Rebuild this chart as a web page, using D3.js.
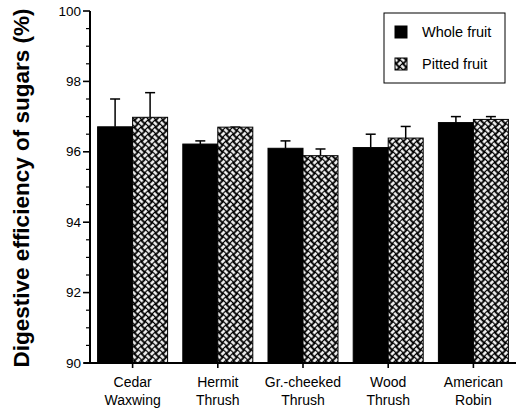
<!DOCTYPE html>
<html>
<head>
<meta charset="utf-8">
<script src="https://cdn.jsdelivr.net/npm/d3@7"></script>
<style>
  body { margin: 0; background: #fff; }
  text { font-family: "Liberation Sans", Arial, sans-serif; fill: #000; }
</style>
</head>
<body>
<div id="chart"></div>
<script>
// species along the x axis, two text lines each
let species = ['Cedar|Waxwing', 'Hermit|Thrush', 'Gr.-cheeked|Thrush', 'Wood|Thrush', 'American|Robin']
let seriesNames = ['Whole fruit', 'Pitted fruit']

// mean digestive efficiency (%) and upper error bar end
let wholeMean = [96.71, 96.22, 96.10, 96.12, 96.83]
let wholeErr = [97.50, 96.31, 96.31, 96.50, 97.00]
let pittedMean = [96.98, 96.70, 95.89, 96.39, 96.92]
let pittedErr = [97.68, 96.70, 96.08, 96.72, 97.00]

let yTicks = [90, 92, 94, 96, 98, 100]

let w = 520, h = 409
let mLeft = 90, mRight = 516, mTop = 11, mBottom = 363

let svg = d3.select('#chart').append('svg')
    .attr('width', w)
    .attr('height', h)

// basket weave fill for the pitted fruit bars (woven tile turned 45 deg)
let defs = svg.append('defs')
let weave = defs.append('pattern')
    .attr('id', 'weave')
    .attr('patternUnits', 'userSpaceOnUse')
    .attr('patternTransform', 'rotate(45)')
    .attr('width', 10)
    .attr('height', 10)
weave.append('rect').attr('width', 10).attr('height', 10).attr('fill', '#000')
weave.append('path')
    .attr('d', 'M0,2.5 H4.3 M7.5,0 V4.3 M2.5,5 V9.3 M5,7.5 H9.3')
    .attr('stroke', '#fff')
    .attr('stroke-width', 2.6)
    .attr('fill', 'none')

let x = d3.scaleBand()
    .domain(d3.range(species.length))
    .range([mLeft, mRight])

let barW = 35

let y = d3.scaleLinear()
    .domain([90, 100])
    .range([mBottom, mTop])

let groups = svg.append('g')
    .selectAll('g')
    .data(species)
    .enter()
    .append('g')

let series = [
    {mean: wholeMean, err: wholeErr, fill: '#000', off: -barW},
    {mean: pittedMean, err: pittedErr, fill: 'url(#weave)', off: 0}
]

series.forEach(s =>
{
    // error bars first, bars drawn over them
    groups.append('line')
        .attr('x1', (d, i) => x(i) + x.bandwidth() / 2 + s.off + barW / 2)
        .attr('x2', (d, i) => x(i) + x.bandwidth() / 2 + s.off + barW / 2)
        .attr('y1', (d, i) => y(s.mean[i]))
        .attr('y2', (d, i) => y(s.err[i]))
        .attr('stroke', '#000')
        .attr('stroke-width', 1.5)
    groups.append('line')
        .attr('x1', (d, i) => x(i) + x.bandwidth() / 2 + s.off + barW / 2 - 5)
        .attr('x2', (d, i) => x(i) + x.bandwidth() / 2 + s.off + barW / 2 + 5)
        .attr('y1', (d, i) => y(s.err[i]))
        .attr('y2', (d, i) => y(s.err[i]))
        .attr('stroke', '#000')
        .attr('stroke-width', 1.5)
})

series.forEach(s =>
{
    groups.append('rect')
        .attr('x', (d, i) => x(i) + x.bandwidth() / 2 + s.off)
        .attr('y', (d, i) => y(s.mean[i]))
        .attr('width', barW)
        .attr('height', (d, i) => y(90) - y(s.mean[i]))
        .attr('fill', s.fill)
        .attr('stroke', '#000')
        .attr('stroke-width', 1)
})

// y axis with minor ticks every 0.5
let yAxis = svg.append('g').attr('transform', 'translate(' + mLeft + ',0)')
yAxis.append('line')
    .attr('y1', y(100)).attr('y2', y(90))
    .attr('stroke', '#000').attr('stroke-width', 2)
yAxis.selectAll('.minor')
    .data(d3.range(90, 100.01, 0.5).filter(v => !yTicks.includes(v)))
    .enter()
    .append('line')
    .attr('x1', -4).attr('x2', 0)
    .attr('y1', d => y(d)).attr('y2', d => y(d))
    .attr('stroke', '#000').attr('stroke-width', 1.2)
yAxis.selectAll('.major')
    .data(yTicks)
    .enter()
    .append('line')
    .attr('x1', -7).attr('x2', 0)
    .attr('y1', d => y(d)).attr('y2', d => y(d))
    .attr('stroke', '#000').attr('stroke-width', 1.6)
yAxis.selectAll('.lab')
    .data(yTicks)
    .enter()
    .append('text')
    .attr('x', -9)
    .attr('y', d => y(d) + 4.5)
    .attr('text-anchor', 'end')
    .style('font-size', '13.5px')
    .text(d => d)

// x axis
let xAxis = svg.append('g')
xAxis.append('line')
    .attr('x1', mLeft - 6).attr('x2', mRight)
    .attr('y1', mBottom).attr('y2', mBottom)
    .attr('stroke', '#000').attr('stroke-width', 2)
xAxis.selectAll('.tick')
    .data(species)
    .enter()
    .append('line')
    .attr('x1', (d, i) => x(i) + x.bandwidth() / 2)
    .attr('x2', (d, i) => x(i) + x.bandwidth() / 2)
    .attr('y1', mBottom).attr('y2', mBottom + 5)
    .attr('stroke', '#000').attr('stroke-width', 1.6)
let xl = xAxis.selectAll('.lab')
    .data(species)
    .enter()
    .append('text')
    .attr('text-anchor', 'middle')
    .style('font-size', '14px')
xl.append('tspan')
    .attr('x', (d, i) => x(i) + x.bandwidth() / 2)
    .attr('y', 387)
    .text(d => d.split('|')[0])
xl.append('tspan')
    .attr('x', (d, i) => x(i) + x.bandwidth() / 2)
    .attr('y', 405)
    .text(d => d.split('|')[1])

// y axis title
svg.append('text')
    .attr('transform', 'translate(29,188) rotate(-90)')
    .attr('text-anchor', 'middle')
    .style('font-size', '22.5px')
    .style('font-weight', 'bold')
    .text('Digestive efficiency of sugars (%)')

// legend
let legend = svg.append('g')
legend.append('rect')
    .attr('x', 384).attr('y', 13)
    .attr('width', 121).attr('height', 70)
    .attr('fill', '#fff').attr('stroke', '#000').attr('stroke-width', 1)
let fills = ['#000', 'url(#weave)']
seriesNames.forEach((name, i) =>
{
    legend.append('rect')
        .attr('x', 395).attr('y', 26 + i * 32)
        .attr('width', 12).attr('height', 12)
        .attr('fill', fills[i]).attr('stroke', '#000')
    legend.append('text')
        .attr('x', 422).attr('y', 37 + i * 32)
        .style('font-size', '14.5px')
        .text(name)
})
</script>
</body>
</html>
